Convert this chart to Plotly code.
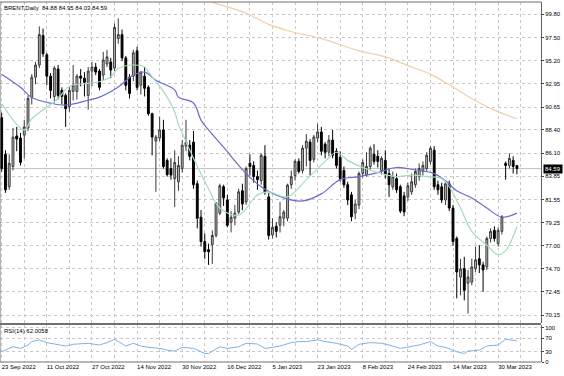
import pandas as pd
import plotly.graph_objects as go

# ---------------- data ----------------
holidays = ["2022-12-26", "2023-01-02"]
dates = [d.strftime("%Y-%m-%d") for d in pd.bdate_range("2022-09-23", "2023-04-06")
         if d.strftime("%Y-%m-%d") not in holidays]

opens = [89.6, 86.0, 82.8, 84.8, 87.8, 87.6, 87.9, 88.6, 91.6, 93.6,
         94.8, 97.7, 95.8, 93.7, 91.7, 94.4, 92.3, 91.8, 90.7, 92.2,
         92.2, 93.7, 93.5, 91.8, 94.2, 94.6, 94.2, 93.8, 94.9, 95.1,
         94.5, 97.4, 97.8, 95.5, 93.6, 93.7, 96.2, 92.8, 93.7, 92.6,
         90.0, 87.3, 87.6, 88.4, 85.4, 84.6, 83.6, 83.3, 84.6, 86.8,
         86.9, 87.2, 83.1, 79.8, 77.4, 76.6, 77.1, 78.0, 80.2, 82.8,
         81.5, 79.3, 79.7, 80.3, 82.4, 81.3, 85.1, 84.9, 83.8, 83.4,
         85.8, 81.8, 78.05, 78.9, 79.0, 79.7, 79.7, 83.0, 83.9, 85.3,
         84.4, 86.6, 87.2, 85.5, 87.6, 88.2, 87.0, 86.2, 87.4, 86.3,
         85.7, 84.4, 83.0, 82.0, 80.2, 81.0, 84.1, 83.95, 84.8, 86.0,
         85.8, 84.4, 85.4, 84.1, 82.8, 83.6, 82.8, 81.9, 81.8, 82.3,
         83.0, 83.8, 84.3, 84.6, 85.3, 86.4, 83.0, 82.8, 81.5, 83.1,
         80.7, 77.7, 73.9, 74.75, 73.3, 73.4, 74.75, 75.7, 75.1, 74.9,
         77.7, 78.5, 77.2, 78.4, 85.1, 84.9, 85.4, 84.88]
highs = [90.1, 86.4, 86.0, 88.6, 88.7, 88.1, 89.4, 91.8, 93.9, 95.1,
         98.6, 98.4, 96.0, 94.0, 94.7, 94.8, 92.6, 92.0, 92.6, 94.8,
         93.9, 94.4, 94.1, 94.6, 95.1, 95.0, 94.4, 96.1, 96.3, 95.5,
         98.9, 99.4, 98.3, 95.7, 93.9, 96.3, 96.6, 94.2, 94.6, 92.8,
         90.1, 87.9, 89.7, 89.4, 85.6, 85.6, 86.4, 85.8, 87.4, 89.4,
         87.4, 88.3, 83.4, 80.5, 78.2, 77.2, 78.5, 81.3, 83.1, 83.0,
         82.0, 80.4, 81.0, 82.6, 83.1, 84.8, 86.0, 85.3, 84.4, 86.1,
         86.9, 82.2, 79.7, 79.3, 81.3, 80.5, 83.1, 84.4, 85.5, 85.6,
         86.9, 88.0, 87.5, 87.9, 89.0, 88.7, 87.2, 87.9, 88.4, 86.6,
         86.3, 84.8, 83.3, 82.3, 81.5, 84.3, 85.5, 86.2, 86.8, 87.0,
         86.4, 85.8, 86.4, 84.6, 84.3, 84.1, 83.0, 82.3, 83.2, 84.1,
         84.6, 85.1, 85.3, 86.2, 86.8, 86.8, 83.4, 83.2, 83.3, 83.4,
         81.0, 77.9, 75.7, 75.9, 74.6, 75.7, 76.9, 77.05, 75.4, 77.9,
         78.7, 78.9, 78.8, 80.0, 85.3, 86.1, 85.8, 84.95]
lows = [84.3, 82.2, 82.5, 84.4, 86.3, 84.9, 85.6, 88.3, 90.9, 92.9,
        94.5, 95.6, 92.8, 91.5, 91.1, 91.4, 90.9, 88.7, 90.2, 91.3,
        91.4, 92.7, 91.7, 90.4, 92.7, 93.8, 92.3, 93.3, 94.6, 93.5,
        94.2, 96.9, 95.2, 92.3, 91.5, 93.2, 92.3, 91.9, 91.7, 89.8,
        85.9, 82.3, 87.3, 84.6, 83.8, 83.5, 80.8, 82.4, 84.2, 86.3,
        85.4, 82.6, 78.7, 76.9, 75.7, 75.1, 75.2, 77.8, 80.0, 80.9,
        78.8, 78.3, 79.0, 80.1, 80.5, 81.0, 83.9, 83.2, 82.5, 83.0,
        82.0, 77.6, 77.7, 77.8, 78.3, 78.9, 79.4, 82.6, 83.4, 84.1,
        84.1, 84.8, 83.9, 85.2, 87.2, 85.9, 85.6, 85.8, 85.6, 84.6,
        83.3, 82.7, 81.0, 79.4, 79.6, 80.6, 83.7, 83.8, 84.5, 85.0,
        84.7, 84.0, 83.6, 81.8, 82.5, 82.2, 80.2, 79.9, 81.4, 82.0,
        82.7, 83.4, 83.9, 84.3, 85.0, 82.5, 82.0, 81.2, 81.0, 80.4,
        77.0, 71.8, 72.1, 71.6, 70.3, 73.1, 74.4, 74.3, 72.45, 74.6,
        77.3, 77.4, 76.9, 78.1, 83.5, 84.6, 84.1, 84.03]
closes = [84.6, 82.5, 85.1, 87.7, 87.5, 85.2, 88.7, 91.5, 93.6, 94.8,
          97.8, 95.9, 93.7, 92.3, 94.5, 91.8, 91.7, 90.5, 92.3, 92.8,
          93.7, 93.5, 93.1, 94.2, 94.6, 94.1, 92.6, 95.3, 95.6, 94.3,
          98.5, 97.8, 95.5, 92.8, 92.0, 96.0, 92.6, 94.1, 92.5, 90.0,
          87.7, 87.7, 88.4, 84.8, 84.0, 83.95, 85.2, 84.9, 86.9, 87.2,
          85.8, 83.0, 79.7, 77.4, 76.4, 76.4, 78.0, 81.2, 82.9, 81.7,
          79.0, 79.8, 80.2, 82.3, 81.1, 84.6, 84.8, 83.8, 83.5, 85.9,
          82.3, 78.0, 78.8, 78.4, 79.85, 80.3, 82.97, 83.8, 85.3, 84.3,
          86.6, 87.3, 85.4, 87.7, 88.2, 86.3, 86.2, 87.4, 85.9, 84.9,
          83.6, 83.0, 81.5, 79.85, 81.1, 84.1, 85.2, 84.8, 86.6, 85.3,
          85.3, 85.6, 84.0, 83.0, 83.8, 82.5, 80.4, 80.3, 82.9, 83.3,
          84.3, 84.6, 84.9, 85.9, 86.6, 82.8, 82.5, 81.5, 83.1, 80.7,
          77.4, 74.4, 74.7, 72.6, 73.9, 74.9, 75.6, 75.1, 74.6, 77.7,
          78.4, 77.7, 78.5, 79.85, 84.9, 85.6, 84.8, 84.59]

# moving averages (bar number, price)
ma_fast_bar = [0, 6, 8, 13, 15, 18, 23, 26, 29, 31, 35, 38, 39, 41, 43, 46, 47, 48,
               51, 55, 58, 63, 68, 71, 76, 81, 86, 89, 92, 96, 101, 105, 109, 113,
               117, 119, 122, 125, 129, 132, 134, 137]
ma_fast_val = [91.0, 88.4, 89.5, 90.9, 91.5, 92.7, 93.0, 93.15, 93.65, 94.45, 94.8, 94.6,
               94.15, 93.15, 92.2, 90.2, 88.9, 88.1, 85.6, 82.6, 80.7, 80.0, 82.0, 82.3,
               81.8, 83.5, 85.3, 86.2, 85.4, 84.7, 84.1, 83.8, 83.95, 83.8, 83.6, 82.8,
               80.7, 78.4, 77.05, 76.1, 76.5, 78.85]
ma_mid_bar = [0, 5, 8, 13, 17, 23, 26, 31, 35, 38, 41, 46, 47, 51, 53, 55, 59, 64, 69,
              75, 80, 85, 90, 95, 100, 105, 110, 115, 118, 121, 125, 129, 133, 137]
ma_mid_val = [93.9, 92.6, 91.6, 91.04, 90.84, 91.33, 91.63, 92.63, 93.81, 94.1, 93.3,
              92.35, 91.63, 91.05, 89.37, 88.4, 86.7, 84.5, 82.8, 81.7, 81.4, 82.1, 83.5,
              83.8, 84.2, 84.7, 84.45, 84.1, 83.4, 82.4, 81.7, 80.7, 79.8, 80.2]
ma_slow_bar = [54, 56, 65, 71, 77, 85, 95, 102, 109, 114, 119, 124, 131, 137]
ma_slow_val = [101.3, 101.0, 99.9, 98.8, 98.1, 97.4, 96.2, 95.6, 94.6, 93.9, 92.85,
               91.7, 90.35, 89.5]

rsi_bar = [0, 3, 5, 7, 8, 10, 12, 14, 17, 19, 23, 26, 28, 30, 31, 33, 35, 37, 39, 42,
           44, 46, 48, 51, 54, 55, 58, 60, 63, 65, 68, 70, 72, 74, 77, 79, 81, 84, 86,
           89, 92, 93, 95, 98, 101, 103, 106, 109, 111, 114, 116, 118, 121, 123, 124,
           127, 129, 132, 134, 137]
rsi_val = [30, 45, 40, 50, 60, 65, 57, 53, 47, 52, 55, 50, 57, 67, 60, 47, 55, 47, 43, 40,
           35, 32, 43, 40, 25, 25, 45, 40, 45, 55, 53, 40, 43, 47, 57, 60, 60, 65, 60,
           55, 47, 37, 52, 57, 55, 50, 40, 47, 50, 60, 47, 43, 30, 25, 32,
           35, 47, 50, 67, 62]

price_ticks = [99.80, 97.50, 95.20, 92.95, 90.65, 88.40, 86.10, 83.85, 81.55, 79.25,
               77.00, 74.70, 72.45, 70.15]
rsi_ticks = [100, 70, 30, 0]
date_tick_dates = ["2022-09-23", "2022-10-11", "2022-10-27", "2022-11-14", "2022-11-30",
                   "2022-12-16", "2023-01-05", "2023-01-23", "2023-02-08", "2023-02-24",
                   "2023-03-14", "2023-03-30"]
date_tick_text = ["23 Sep 2022", "11 Oct 2022", "27 Oct 2022", "14 Nov 2022", "30 Nov 2022",
                  "16 Dec 2022", "5 Jan 2023", "23 Jan 2023", "8 Feb 2023", "24 Feb 2023",
                  "14 Mar 2023", "30 Mar 2023"]
last_price = 84.59
title_text = "BRENT,Daily  84.88 84.95 84.03 84.59"
rsi_text = "RSI(14) 62.0058"

# ---------------- figure ----------------
FONT = "Liberation Sans, Arial, sans-serif"
FS = 6
bars = list(range(len(dates)))
tick_pos = [dates.index(d) for d in date_tick_dates]
minor_pos = [p + 6 for p in tick_pos]

fig = go.Figure()
fig.add_trace(go.Candlestick(
    x=bars, open=opens, high=highs, low=lows, close=closes,
    increasing=dict(fillcolor="#bdbdbd", line=dict(color="#3a3a3a", width=1)),
    decreasing=dict(fillcolor="#000000", line=dict(color="#000000", width=1)),
    whiskerwidth=0, showlegend=False, hoverinfo="skip", xaxis="x", yaxis="y"))
fig.add_trace(go.Scatter(x=ma_slow_bar, y=ma_slow_val, mode="lines",
                         line=dict(color="#f2cfa6", width=1.2, shape="spline"),
                         showlegend=False, hoverinfo="skip"))
fig.add_trace(go.Scatter(x=ma_mid_bar, y=ma_mid_val, mode="lines",
                         line=dict(color="#6b6bd0", width=1.2, shape="spline"),
                         showlegend=False, hoverinfo="skip"))
fig.add_trace(go.Scatter(x=ma_fast_bar, y=ma_fast_val, mode="lines",
                         line=dict(color="#a6dcba", width=1.2, shape="spline"),
                         showlegend=False, hoverinfo="skip"))
fig.add_trace(go.Scatter(x=rsi_bar, y=rsi_val, mode="lines", yaxis="y2",
                         line=dict(color="#7ab4ea", width=1),
                         showlegend=False, hoverinfo="skip"))

grid = dict(showgrid=True, gridcolor="#c8c8c8", griddash="dot", gridwidth=1)
fig.update_layout(
    width=564, height=376,
    margin=dict(l=0, r=23, t=2, b=14),
    paper_bgcolor="white", plot_bgcolor="white",
    font=dict(family=FONT, size=FS, color="#000000"),
    hovermode=False,
    xaxis=dict(range=[-0.45, 143.4], anchor="y2", tickmode="array",
               tickvals=tick_pos, ticktext=date_tick_text, ticks="", ticklen=0,
               tickangle=0, ticklabelposition="outside right",
               tickfont=dict(size=FS), automargin=False,
               rangeslider=dict(visible=False), zeroline=False, showline=False,
               minor=dict(tickvals=minor_pos, showgrid=True, gridcolor="#c8c8c8",
                          griddash="dot", gridwidth=1),
               **grid),
    yaxis=dict(domain=[0.108, 1.0], range=[69.36, 101.01], side="right",
               tickmode="array", tickvals=price_ticks,
               ticktext=[f"{v:.2f}" for v in price_ticks],
               ticks="outside", ticklen=2, tickcolor="#404040", ticklabelstandoff=0,
               showline=True, linecolor="#606060", linewidth=1, zeroline=False,
               tickfont=dict(size=FS), automargin=False, **grid),
    yaxis2=dict(domain=[0.0, 0.1028], range=[0, 108.8], side="right",
                tickmode="array", tickvals=rsi_ticks, ticktext=[str(v) for v in rsi_ticks],
                ticks="outside", ticklen=2, tickcolor="#404040", ticklabelstandoff=0,
                showline=True, linecolor="#606060", linewidth=1, zeroline=False,
                tickfont=dict(size=FS), automargin=False, **grid),
)

# panel frames and last-price line
fig.add_shape(type="line", xref="paper", yref="paper", x0=0, x1=1, y0=1, y1=1,
              line=dict(color="#707070", width=1))
fig.add_shape(type="line", xref="paper", yref="paper", x0=0, x1=1, y0=0.1055, y1=0.1055,
              line=dict(color="#707070", width=2))
fig.add_shape(type="line", xref="paper", yref="paper", x0=0, x1=1, y0=0, y1=0,
              line=dict(color="#707070", width=1))
fig.add_shape(type="line", xref="paper", yref="paper", x0=0, x1=0, y0=0, y1=1,
              line=dict(color="#707070", width=1))
fig.add_shape(type="line", xref="paper", yref="y", x0=0, x1=1, y0=last_price, y1=last_price,
              line=dict(color="#c0c0c0", width=1), layer="below")

fig.add_annotation(xref="paper", yref="y", x=1.0, y=last_price, xanchor="left",
                   yanchor="middle", text=f"{last_price:.2f}", showarrow=False,
                   bgcolor="#000000", font=dict(color="#ffffff", size=FS, family=FONT),
                   borderpad=1, xshift=2)
fig.add_annotation(xref="paper", yref="paper", x=0.004, y=1.0, xanchor="left",
                   yanchor="top", text=title_text, showarrow=False,
                   font=dict(size=FS, family=FONT), yshift=-1)
fig.add_annotation(xref="paper", yref="paper", x=0.004, y=0.1028, xanchor="left",
                   yanchor="top", text=rsi_text, showarrow=False,
                   font=dict(size=FS, family=FONT), yshift=-1)

fig.write_html("out.html", config={"displayModeBar": False, "staticPlot": True},
               post_script="document.body.style.margin='0';document.body.style.overflow='hidden';")
